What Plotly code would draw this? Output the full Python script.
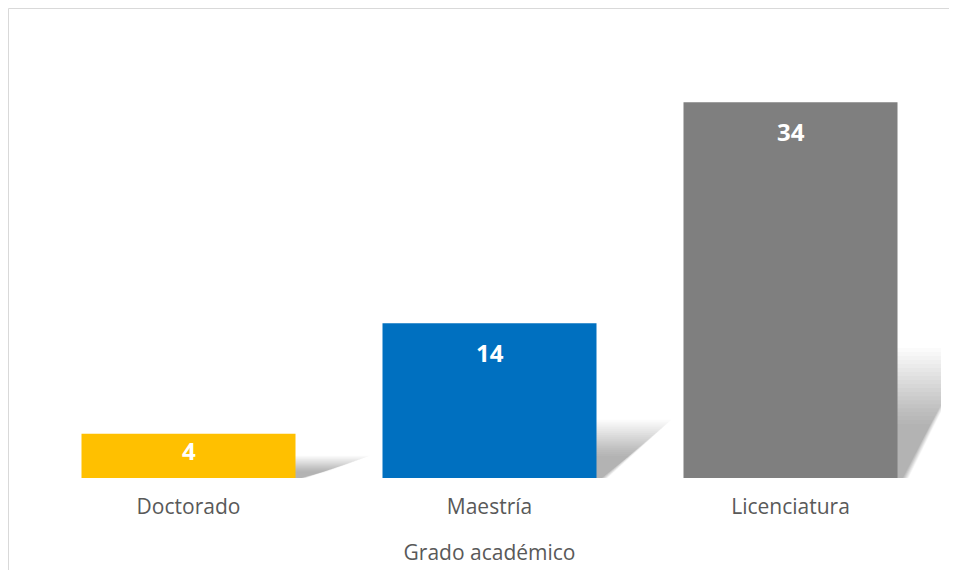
import plotly.graph_objects as go

categories = ["Doctorado", "Maestría", "Licenciatura"]
values = [4, 14, 34]
bar_colors = ["#FFC000", "#0070C0", "#7F7F7F"]
axis_title = "Grado académico"

# figure fits inside the page (8px body margin) so no scrollbars appear
W, H = 943, 564
ML, MR, MT, MB = 30, 10, 28, 94
YMAX = 40

fig = go.Figure()
fig.add_trace(go.Bar(
    x=list(range(len(categories))), y=values,
    marker=dict(color=bar_colors, line=dict(width=0)),
    hoverinfo="skip",
))

# soft perspective shadows behind each bar (blur simulated by stacked layers)
pw, ph = W - ML - MR, H - MT - MB
px_per_unit_x = pw / 3.0
px_per_unit_y = ph / YMAX
half = (214 / px_per_unit_x) / 2
bargap = 1 - 2 * half
shapes = []
N = 20
for i, v in enumerate(values):
    R = i + half
    for k in range(N):
        t = k / (N - 1)
        s = 1.25 - 0.7 * t
        top = v * 0.26 * s + 8 / px_per_unit_y * (1 - t)
        d = 60 / px_per_unit_x * s
        path = (f"M {R - 0.01},0 L {R - 0.01},{top} L {R + d},{top} "
                f"L {R + d * 0.15},0 Z")
        shapes.append(dict(type="path", path=path, xref="x", yref="y",
                           fillcolor="rgba(0,0,0,0.016)", line=dict(width=0),
                           layer="below"))

# outer chart border: only its top and left edges are inside the view
def px2x(p):
    return (p - ML) / pw
def py2y(p):
    return 1 - (p - MT) / ph
border = dict(color="#D9D9D9", width=1)
shapes.append(dict(type="line", xref="paper", yref="paper",
                   x0=px2x(0.5), x1=px2x(W - 2), y0=py2y(0.5), y1=py2y(0.5),
                   line=border, layer="above"))
shapes.append(dict(type="line", xref="paper", yref="paper",
                   x0=px2x(0.5), x1=px2x(0.5), y0=py2y(0.5), y1=py2y(H - 2),
                   line=border, layer="above"))

annotations = []
for i, v in enumerate(values):
    hpx = v * px_per_unit_y
    shift = -min(29, hpx / 2 - 5)
    annotations.append(dict(x=i, y=v, xref="x", yref="y", text=f"<b>{v}</b>",
                            showarrow=False, yanchor="middle", yshift=shift,
                            font=dict(family="Open Sans", size=24, color="white")))

fig.update_layout(
    width=W, height=H,
    margin=dict(l=ML, r=MR, t=MT, b=MB),
    paper_bgcolor="white", plot_bgcolor="white",
    bargap=bargap, showlegend=False,
    shapes=shapes, annotations=annotations,
    xaxis=dict(
        range=[-0.5, 2.5], tickmode="array",
        tickvals=list(range(len(categories))), ticktext=categories,
        showgrid=False, zeroline=False, showline=False, ticks="",
        ticklabelstandoff=14,
        tickfont=dict(family="Open Sans", size=21, color="#595959"),
        title=dict(text=axis_title, standoff=26,
                   font=dict(family="Open Sans", size=21, color="#595959")),
        automargin=False,
    ),
    yaxis=dict(range=[0, YMAX], visible=False, showgrid=False, zeroline=False),
)

fig.write_html("out.html")
